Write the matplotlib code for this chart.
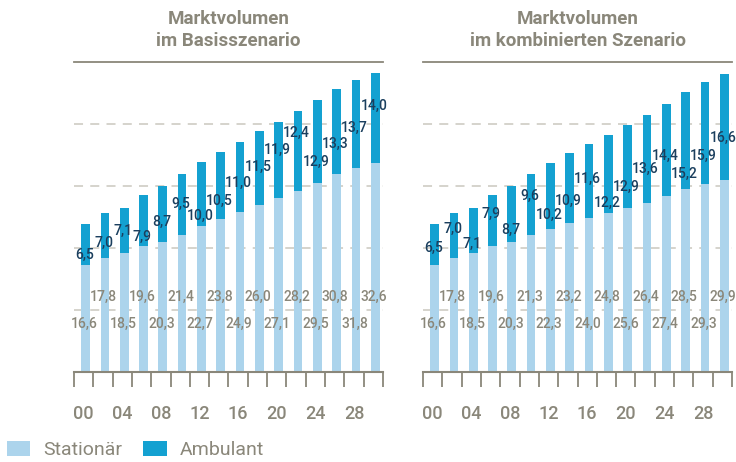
import matplotlib
matplotlib.use("Agg")
import matplotlib.pyplot as plt
from matplotlib.patches import Patch
import numpy as np

plt.rcParams['font.family'] = ['Roboto', 'DejaVu Sans']

years = ["00", "02", "04", "06", "08", "10", "12", "14", "16", "18", "20", "22", "24", "26", "28", "30"]
tick_years = ["00", "04", "08", "12", "16", "20", "24", "28"]

basis_stationaer = [16.6, 17.8, 18.5, 19.6, 20.3, 21.4, 22.7, 23.8, 24.9, 26.0, 27.1, 28.2, 29.5, 30.8, 31.8, 32.6]
basis_ambulant = [6.5, 7.0, 7.1, 7.9, 8.7, 9.5, 10.0, 10.5, 11.0, 11.5, 11.9, 12.4, 12.9, 13.3, 13.7, 14.0]

komb_stationaer = [16.6, 17.8, 18.5, 19.6, 20.3, 21.3, 22.3, 23.2, 24.0, 24.8, 25.6, 26.4, 27.4, 28.5, 29.3, 29.9]
komb_ambulant = [6.5, 7.0, 7.1, 7.9, 8.7, 9.6, 10.2, 10.9, 11.6, 12.2, 12.9, 13.6, 14.4, 15.2, 15.9, 16.6]

titles = ["Marktvolumen\nim Basisszenario", "Marktvolumen\nim kombinierten Szenario"]
legend_labels = ["Stationär", "Ambulant"]

# layout: label offsets above the stationary segment (manual placement as in the original)
basis_label_off = [1.6, 2.3, 3.5, 1.4, 3.1, 4.8, 1.6, 2.9, 4.5, 5.9, 7.5, 9.1, 3.3, 4.7, 6.3, 8.8]
komb_label_off = [2.7, 4.5, 1.5, 5.0, 1.9, 6.2, 2.1, 3.5, 6.1, 1.6, 3.3, 5.2, 6.3, 2.4, 4.4, 6.6]

C_STAT = "#acd4ec"
C_AMB = "#14a1d1"
C_GRAY = "#8a877a"
C_NAVY = "#1b3f5e"
C_GRID = "#d2d0c8"

YMAX = 48.3

fig = plt.figure(figsize=(7.36, 4.62), dpi=100)
ax_l = fig.add_axes([74 / 736, 1 - 372 / 462, 309 / 736, 310 / 462])
ax_r = fig.add_axes([423 / 736, 1 - 372 / 462, 309 / 736, 310 / 462])

panels = [
    (ax_l, basis_stationaer, basis_ambulant, basis_label_off, titles[0]),
    (ax_r, komb_stationaer, komb_ambulant, komb_label_off, titles[1]),
]

def fmt(v):
    return f"{v:.1f}".replace(".", ",")

for ax, stat, amb, off, title in panels:
    n = len(years)
    x = np.arange(n)
    xc = x + 0.1
    ax.set_xlim(-0.5, n - 0.5)
    ax.set_ylim(0, YMAX)
    for k in range(1, 5):
        ax.axhline(YMAX * k / 5, color=C_GRID, lw=1.3, ls=(0, (5, 4)), zorder=0)
    ax.bar(xc, stat, width=0.45, color=C_STAT, zorder=2)
    ax.bar(xc, amb, bottom=stat, width=0.45, color=C_AMB, zorder=2)
    for i in range(n):
        ys = 7.5 if i % 2 == 0 else 11.7
        ax.text(x[i] + 0.03, ys, fmt(stat[i]), ha="center", va="center",
                color=C_GRAY, fontsize=10, fontweight="medium", zorder=3)
        ax.text(x[i] + 0.03, stat[i] + off[i], fmt(amb[i]), ha="center", va="center",
                color=C_NAVY, fontsize=10, fontweight="medium", zorder=3)
    for s in ["left", "right"]:
        ax.spines[s].set_visible(False)
    ax.spines["top"].set_color(C_GRAY)
    ax.spines["top"].set_linewidth(1.3)
    ax.spines["bottom"].set_color(C_GRAY)
    ax.spines["bottom"].set_linewidth(1.5)
    ax.set_yticks([])
    ax.set_xticks(np.arange(-0.5, n, 1.0), minor=True)
    ax.set_xticks(np.arange(0, n, 2))
    ax.set_xticklabels(tick_years, fontweight="medium")
    ax.tick_params(axis="x", which="minor", length=11, width=1.3, color=C_GRAY, direction="out")
    ax.tick_params(axis="x", which="major", length=0, pad=24, labelsize=13, labelcolor=C_GRAY)
    pos = ax.get_position()
    fig.text((pos.x0 + pos.x1) / 2, 1 - 30 / 462, title,
             ha="center", va="center", color=C_GRAY, fontsize=13.5, fontweight="semibold",
             linespacing=1.25)

handles = [Patch(facecolor=C_STAT, edgecolor="none"), Patch(facecolor=C_AMB, edgecolor="none")]
fig.legend(handles, legend_labels, loc="center left", bbox_to_anchor=(7 / 736, 1 - 450 / 462),
           ncol=2, frameon=False, fontsize=14, labelcolor=C_GRAY,
           handlelength=1.2, handleheight=0.8, handletextpad=0.65, columnspacing=1.1,
           borderaxespad=0, borderpad=0)

fig.savefig("out.png", dpi=100)
